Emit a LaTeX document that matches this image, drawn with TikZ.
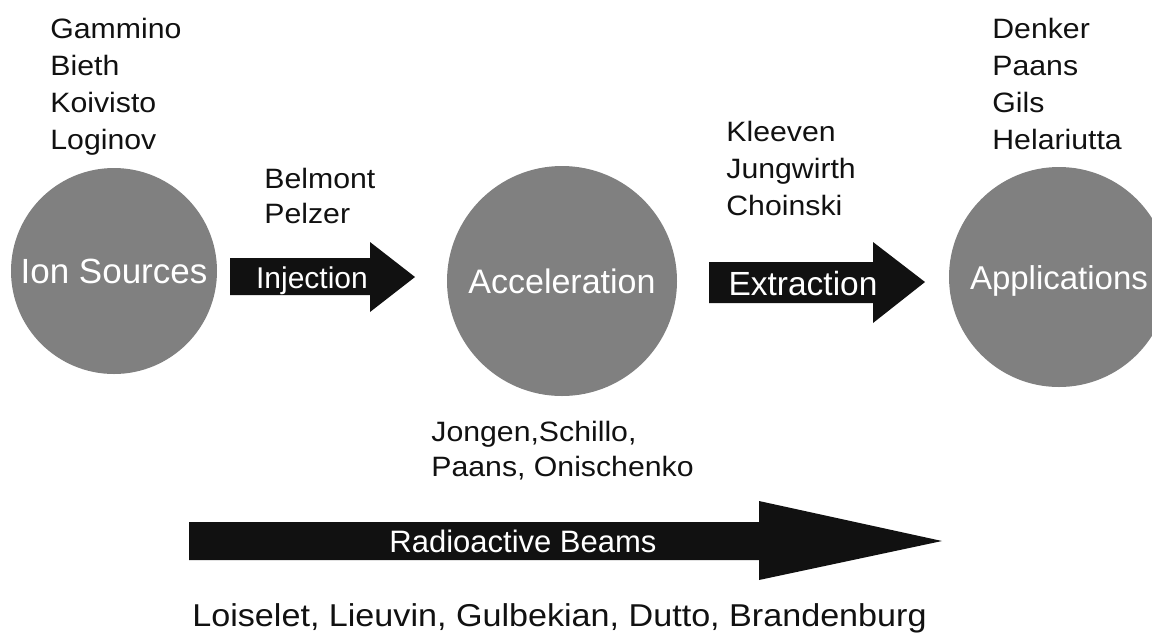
\documentclass[tikz,border=0pt]{standalone}
\usepackage{fontspec}
\setmainfont{Liberation Sans}
\newfontfamily\namefont{Liberation Sans}[FakeStretch=1.08]
\definecolor{discgray}{HTML}{808080}
\definecolor{ink}{HTML}{111111}
\begin{document}
\begin{tikzpicture}[x=0.5pt,y=-0.5pt,
  disc/.style={circle, fill=discgray, draw=none, inner sep=0pt, text=white,
    text height=12pt, text depth=0pt},
  arrowlabel/.style={text=white, anchor=base, inner sep=0pt},
  authors/.style={font=\namefont\fontsize{14}{16}\selectfont, anchor=base west, inner sep=0pt, text=ink},
  arrowshape/.style={fill=ink, draw=none}]
\useasboundingbox (0,0) rectangle (1152,634);
\clip (0,0) rectangle (1152,634);
\fill[white] (0,0) rectangle (1152,634);

% circles
\node[disc, minimum size=103pt, font=\fontsize{17.5}{20}\selectfont] (ion) at (114,271) {Ion Sources};
\node[disc, minimum size=115pt, font=\fontsize{17}{20}\selectfont] (acc) at (562,281) {Acceleration};
\node[disc, minimum size=110pt, font=\fontsize{16.5}{20}\selectfont] (app) at (1059,277) {Applications};

% arrows
\fill[arrowshape] (230,258) -- (370,258) -- (370,242) -- (415,277) -- (370,312) -- (370,295) -- (230,295) -- cycle;
\node[arrowlabel, font=\fontsize{15}{18}\selectfont] (inj) at (312,288) {Injection};

\fill[arrowshape] (709,262) -- (873,262) -- (873,242) -- (925,282) -- (873,323) -- (873,303) -- (709,303) -- cycle;
\node[arrowlabel, font=\fontsize{16.75}{20}\selectfont] (ext) at (803,295) {Extraction};

\fill[arrowshape] (189,522) -- (759,522) -- (759,501) -- (942,541) -- (759,580) -- (759,560) -- (189,560) -- cycle;
\node[arrowlabel, font=\fontsize{15.5}{18}\selectfont] (rad) at (523,552) {Radioactive Beams};

% author lists
\node[authors] (g1) at (50,38) {Gammino};
\node[authors] (g2) at (50,75) {Bieth};
\node[authors] (g3) at (50,112) {Koivisto};
\node[authors] (g4) at (50,149) {Loginov};

\node[authors] (b1) at (264,188) {Belmont};
\node[authors] (b2) at (264,223) {Pelzer};

\node[authors] (k1) at (726,141) {Kleeven};
\node[authors] (k2) at (726,178) {Jungwirth};
\node[authors] (k3) at (726,215) {Choinski};

\node[authors] (d1) at (992,38) {Denker};
\node[authors] (d2) at (992,75) {Paans};
\node[authors] (d3) at (992,112) {Gils};
\node[authors] (d4) at (992,149) {Helariutta};

\node[authors] (j1) at (431,441) {Jongen,Schillo,};
\node[authors] (j2) at (431,476) {Paans, Onischenko};

\node[authors, font=\namefont\fontsize{15.8}{18}\selectfont] (l1) at (192,626) {Loiselet, Lieuvin, Gulbekian, Dutto, Brandenburg};
\end{tikzpicture}
\end{document}
